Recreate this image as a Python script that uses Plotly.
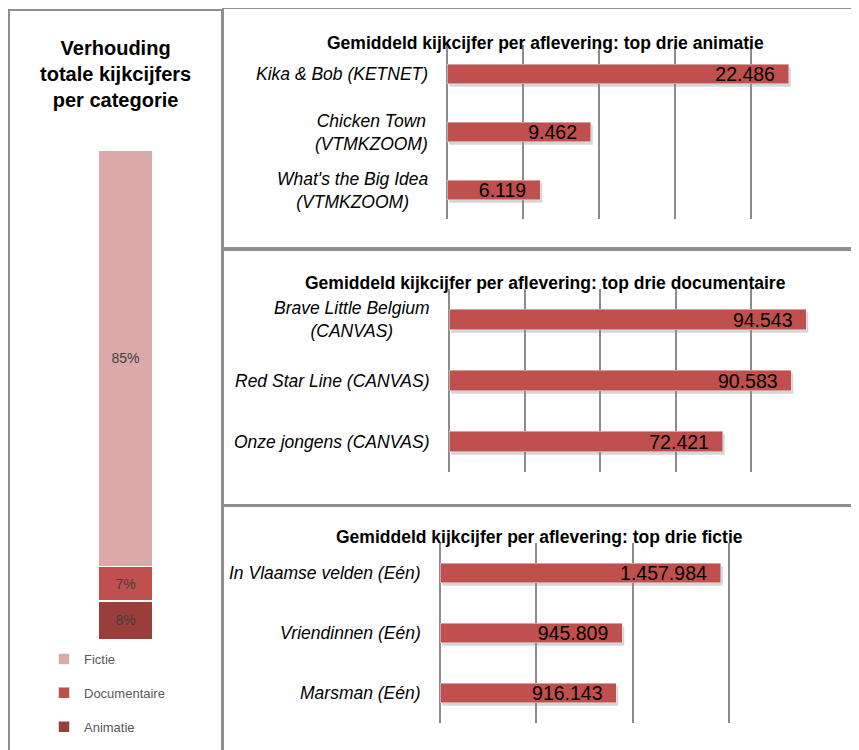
import plotly.graph_objects as go

# ---------------- data ----------------
share_categories = ["Animatie", "Documentaire", "Fictie"]
share_values = [8, 7, 85]
share_colors = ["#9B3D3B", "#C0504D", "#DBA9A8"]

anim_title = "Gemiddeld kijkcijfer per aflevering: top drie animatie"
anim_names = ["Kika & Bob (KETNET)", "Chicken Town<br>(VTMKZOOM)", "What's the Big Idea<br>(VTMKZOOM)"]
anim_values = [22486, 9462, 6119]

doc_title = "Gemiddeld kijkcijfer per aflevering: top drie documentaire"
doc_names = ["Brave Little Belgium<br>(CANVAS)", "Red Star Line (CANVAS)", "Onze jongens (CANVAS)"]
doc_values = [94543, 90583, 72421]

fic_title = "Gemiddeld kijkcijfer per aflevering: top drie fictie"
fic_names = ["In Vlaamse velden (Eén)", "Vriendinnen (Eén)", "Marsman (Eén)"]
fic_values = [1457984, 945809, 916143]

left_title = "Verhouding<br>totale kijkcijfers<br>per categorie"

# ---------------- layout helpers ----------------
W, H = 859, 750
OFF = 8  # page body margin
def fx(px):
    return (px - OFF) / W
def fy(py):
    return 1 - (py - OFF) / H

SANS = "Liberation Sans, Arial, sans-serif"
BAR_COLOR = "#C0504D"
SHADOW = "rgba(0,0,0,0.16)"
GRID = "#8C8C8C"

fig = go.Figure()

# left stacked bar
for i, (cat, val, col) in enumerate(zip(share_categories, share_values, share_colors)):
    fig.add_trace(go.Bar(
        x=["Totaal"], y=[val], name=cat, marker=dict(color=col, line=dict(color="white", width=1.5)),
        texttemplate="%{y:.0f}%", textposition="inside", insidetextanchor="middle",
        constraintext="none",
        textfont=dict(family=SANS, size=14, color="#404040"),
        xaxis="x", yaxis="y", legendgroup=cat, legendrank=3 - i, showlegend=True,
        hoverinfo="skip",
    ))

# (names, values, title, shadow axis id, main axis id, max, dtick, geometry, title x, title y)
panels = [
    (anim_names, anim_values, anim_title, "2", "5", 25000, 5000, (447, 827, 45, 219), 545, 43),
    (doc_names, doc_values, doc_title, "3", "6", 100000, 20000, (449, 827, 289, 472), 545, 283),
    (fic_names, fic_values, fic_title, "4", "7", 2000000, 500000, (440, 825, 543, 723), 539, 537),
]

# shadows first (drawn beneath)
for names, vals, title, s, m, mx, dt, g, tx, ty in panels:
    fig.add_trace(go.Bar(
        y=names, x=vals, orientation="h", marker=dict(color=SHADOW),
        xaxis="x" + s, yaxis="y" + s, showlegend=False, hoverinfo="skip",
    ))
for names, vals, title, s, m, mx, dt, g, tx, ty in panels:
    fig.add_trace(go.Bar(
        y=names, x=vals, orientation="h", marker=dict(color=BAR_COLOR),
        texttemplate="%{x:,}\u00a0\u00a0", textposition="inside", insidetextanchor="end",
        constraintext="none",
        textfont=dict(family=SANS, size=19.5, color="black"),
        xaxis="x" + m, yaxis="y" + m, showlegend=False, hoverinfo="skip",
    ))

layout = dict(
    width=W, height=H, margin=dict(l=0, r=0, t=0, b=0),
    paper_bgcolor="white", plot_bgcolor="rgba(0,0,0,0)",
    barmode="stack", bargap=0.67, separators=",.",
    font=dict(family=SANS, color="#404040"),
    xaxis=dict(domain=[fx(42), fx(209)], visible=False, fixedrange=True),
    yaxis=dict(domain=[fy(640), fy(150)], range=[0, 100], visible=False, fixedrange=True),
    legend=dict(x=fx(44), y=fy(644), xanchor="left", yanchor="top",
                traceorder="grouped", tracegroupgap=14,
                font=dict(family=SANS, size=13, color="#595959"), bgcolor="rgba(0,0,0,0)"),
)
DX, DY = 2, 3  # shadow offset in px
for names, vals, title, s, m, mx, dt, g, tx, ty in panels:
    x0, x1, y0, y1 = g
    layout["xaxis" + s] = dict(domain=[fx(x0 + DX), fx(x1 + DX)], anchor="y" + s, range=[0, mx],
                               visible=False, fixedrange=True)
    layout["yaxis" + s] = dict(domain=[fy(y1 + DY), fy(y0 + DY)], anchor="x" + s, type="category",
                               autorange="reversed", visible=False, fixedrange=True)
    layout["xaxis" + m] = dict(domain=[fx(x0), fx(x1)], anchor="y" + m, range=[0, mx], dtick=dt,
                               showgrid=True, gridcolor=GRID, gridwidth=1.5, zeroline=True,
                               zerolinecolor=GRID, zerolinewidth=1.5, showticklabels=False,
                               showline=False, ticks="", fixedrange=True)
    layout["yaxis" + m] = dict(domain=[fy(y1), fy(y0)], anchor="x" + m, type="category",
                               autorange="reversed", showticklabels=False, showgrid=False,
                               zeroline=False, showline=False, ticks="", fixedrange=True)
fig.update_layout(**layout)

annotations = []
annotations.append(dict(text="<b>" + left_title + "</b>", x=fx(115), y=fy(74), xref="paper", yref="paper",
                        showarrow=False, align="center", xanchor="center", yanchor="middle",
                        font=dict(family=SANS, size=20, color="black")))
for names, vals, title, s, m, mx, dt, g, tx, ty in panels:
    annotations.append(dict(text="<b>" + title + "</b>", x=fx(tx), y=fy(ty), xref="paper", yref="paper",
                            showarrow=False, xanchor="center", yanchor="middle",
                            font=dict(family=SANS, size=17.5, color="black")))
    for n in names:
        annotations.append(dict(text="<i>" + n + "</i>", x=0, y=n, xref="x" + m + " domain", yref="y" + m,
                                showarrow=False, xanchor="right", yanchor="middle", align="center",
                                xshift=-17, font=dict(family=SANS, size=17.5, color="black")))
fig.update_layout(annotations=annotations)

# panel borders
BORDER = "#8F8F8F"
shapes = [
    dict(type="rect", x0=fx(9), x1=fx(222), y0=fy(770), y1=fy(10)),
    dict(type="rect", x0=fx(223), x1=fx(880), y0=fy(248), y1=fy(8)),
    dict(type="rect", x0=fx(223), x1=fx(880), y0=fy(505), y1=fy(250)),
    dict(type="rect", x0=fx(223), x1=fx(880), y0=fy(770), y1=fy(506)),
]
for sh in shapes:
    sh.update(xref="paper", yref="paper", line=dict(color=BORDER, width=2),
              fillcolor="rgba(0,0,0,0)", layer="below")
fig.update_layout(shapes=shapes)

fig.write_html("out.html")
